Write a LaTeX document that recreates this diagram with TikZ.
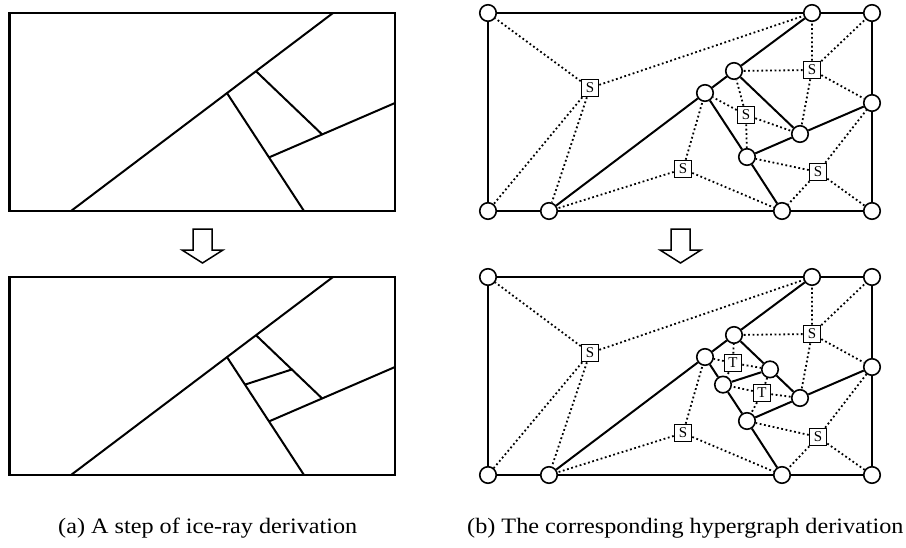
\documentclass[tikz,border=0pt]{standalone}
\usepackage{fontspec}
\setmainfont{Liberation Serif}
\begin{document}
\begin{tikzpicture}[x=1pt, y=-1pt,
	vert/.style={draw, circle, fill=white, line width=1.6pt, minimum size=16.5pt, inner sep=0},
	hbox/.style={draw, fill=white, line width=1.6pt, minimum size=17pt, inner sep=0, font=\fontsize{15}{15}\selectfont},
	tie/.style={line width=1.8pt, dash pattern=on 1.8pt off 2.6pt},
	wall/.style={line width=2pt},
	caption/.style={anchor=base west, xscale=1.1, inner sep=0, font=\fontsize{22}{26}\selectfont}]
	\useasboundingbox (0,0) rectangle (906,547);
	% ice-ray, before the step
	\coordinate (P) at (71,211);
	\coordinate (Q) at (333,13);
	\coordinate (A) at (227,93.1);
	\coordinate (B) at (256,71.2);
	\coordinate (C) at (269,157.4);
	\coordinate (D) at (322,134.3);
	\coordinate (E) at (304,211);
	\coordinate (R) at (395,103);
	\draw[line width=2.4pt] (9.5,13) rectangle (395,211);
	\draw[wall] (P) -- (Q);
	\draw[wall] (A) -- (E);
	\draw[wall] (B) -- (D);
	\draw[wall] (C) -- (R);
	\draw[line width=1.5pt] (193,229) -- (212,229) -- (212,250) -- (223,250) -- (202.5,263) -- (182,250) -- (193,250) -- cycle;
	% ice-ray, after the step
	\begin{scope}[yshift=-264pt]
		\coordinate (P2) at (71,211);
		\coordinate (Q2) at (333,13);
		\coordinate (A2) at (227,93.1);
		\coordinate (B2) at (256,71.2);
		\coordinate (C2) at (269,157.4);
		\coordinate (D2) at (322,134.3);
		\coordinate (E2) at (304,211);
		\coordinate (R2) at (395,103);
		\coordinate (F2) at (245,120.6);
		\coordinate (G2) at (292,105.4);
		\draw[line width=2.4pt] (9.5,13) rectangle (395,211);
		\draw[wall] (P2) -- (Q2);
		\draw[wall] (A2) -- (E2);
		\draw[wall] (B2) -- (D2);
		\draw[wall] (C2) -- (R2);
		\draw[wall] (F2) -- (G2);
	\end{scope}
	% hypergraph, before the step
	\begin{scope}[xshift=478pt]
		\node[vert] (TL) at (10,13) {};
		\node[vert] (TM) at (334,13) {};
		\node[vert] (TR) at (394,13) {};
		\node[vert] (RM) at (394,103) {};
		\node[vert] (BL) at (10,211) {};
		\node[vert] (BM) at (71,211) {};
		\node[vert] (BN) at (304,211) {};
		\node[vert] (BR) at (394,211) {};
		\node[vert] (c1) at (256,71) {};
		\node[vert] (c2) at (227,93) {};
		\node[vert] (c3) at (322,134) {};
		\node[vert] (c4) at (269,157) {};
		\node[hbox] (S1) at (112,88) {S};
		\node[hbox] (S2) at (334,70) {S};
		\node[hbox] (S3) at (268,115) {S};
		\node[hbox] (S4) at (205,169) {S};
		\node[hbox] (S5) at (340,172) {S};
		\draw[wall] (TL) -- (TM) -- (TR) -- (RM) -- (BR) -- (BN) -- (BM) -- (BL) -- (TL);
		\draw[wall] (BM) -- (c2) -- (c1) -- (TM);
		\draw[wall] (c2) -- (c4) -- (BN);
		\draw[wall] (c1) -- (c3) -- (RM);
		\draw[wall] (c4) -- (c3);
		\draw[tie] (S1) -- (TL) (S1) -- (TM) (S1) -- (BL) (S1) -- (BM);
		\draw[tie] (S2) -- (TM) (S2) -- (TR) (S2) -- (c1) (S2) -- (RM) (S2) -- (c3);
		\draw[tie] (S3) -- (c1) (S3) -- (c2) (S3) -- (c3) (S3) -- (c4);
		\draw[tie] (S4) -- (c2) (S4) -- (BM) (S4) -- (BN);
		\draw[tie] (S5) -- (c4) (S5) -- (BN) (S5) -- (BR) (S5) -- (RM);
		\draw[line width=1.5pt] (193,229) -- (212,229) -- (212,250) -- (223,250) -- (202.5,263) -- (182,250) -- (193,250) -- cycle;
	\end{scope}
	% hypergraph, after the step
	\begin{scope}[xshift=478pt, yshift=-264pt]
		\node[vert] (TLb) at (10,13) {};
		\node[vert] (TMb) at (334,13) {};
		\node[vert] (TRb) at (394,13) {};
		\node[vert] (RMb) at (394,103) {};
		\node[vert] (BLb) at (10,211) {};
		\node[vert] (BMb) at (71,211) {};
		\node[vert] (BNb) at (304,211) {};
		\node[vert] (BRb) at (394,211) {};
		\node[vert] (c1b) at (256,71) {};
		\node[vert] (c2b) at (227,93) {};
		\node[vert] (c3b) at (322,134) {};
		\node[vert] (c4b) at (269,157) {};
		\node[vert] (d1b) at (245,120.6) {};
		\node[vert] (d2b) at (292,105.4) {};
		\node[hbox] (S1b) at (112,89) {S};
		\node[hbox] (S2b) at (334,70) {S};
		\node[hbox] (T1b) at (255,99) {T};
		\node[hbox] (T2b) at (284,129) {T};
		\node[hbox] (S4b) at (205,169) {S};
		\node[hbox] (S5b) at (340,173) {S};
		\draw[wall] (TLb) -- (TMb) -- (TRb) -- (RMb) -- (BRb) -- (BNb) -- (BMb) -- (BLb) -- (TLb);
		\draw[wall] (BMb) -- (c2b) -- (c1b) -- (TMb);
		\draw[wall] (c2b) -- (d1b) -- (c4b) -- (BNb);
		\draw[wall] (c1b) -- (d2b) -- (c3b) -- (RMb);
		\draw[wall] (c4b) -- (c3b);
		\draw[wall] (d1b) -- (d2b);
		\draw[tie] (S1b) -- (TLb) (S1b) -- (TMb) (S1b) -- (BLb) (S1b) -- (BMb);
		\draw[tie] (S2b) -- (TMb) (S2b) -- (TRb) (S2b) -- (c1b) (S2b) -- (RMb) (S2b) -- (c3b);
		\draw[tie] (T1b) -- (c1b) (T1b) -- (c2b) (T1b) -- (d1b) (T1b) -- (d2b);
		\draw[tie] (T2b) -- (d1b) (T2b) -- (d2b) (T2b) -- (c3b) (T2b) -- (c4b);
		\draw[tie] (S4b) -- (c2b) (S4b) -- (BMb) (S4b) -- (BNb);
		\draw[tie] (S5b) -- (c4b) (S5b) -- (BNb) (S5b) -- (BRb) (S5b) -- (RMb);
	\end{scope}
	% captions
	\node[caption] (capa) at (58,533) {(a) A step of ice-ray derivation};
	\node[caption] (capb) at (467,533) {(b) The corresponding hypergraph derivation};
\end{tikzpicture}
\end{document}
